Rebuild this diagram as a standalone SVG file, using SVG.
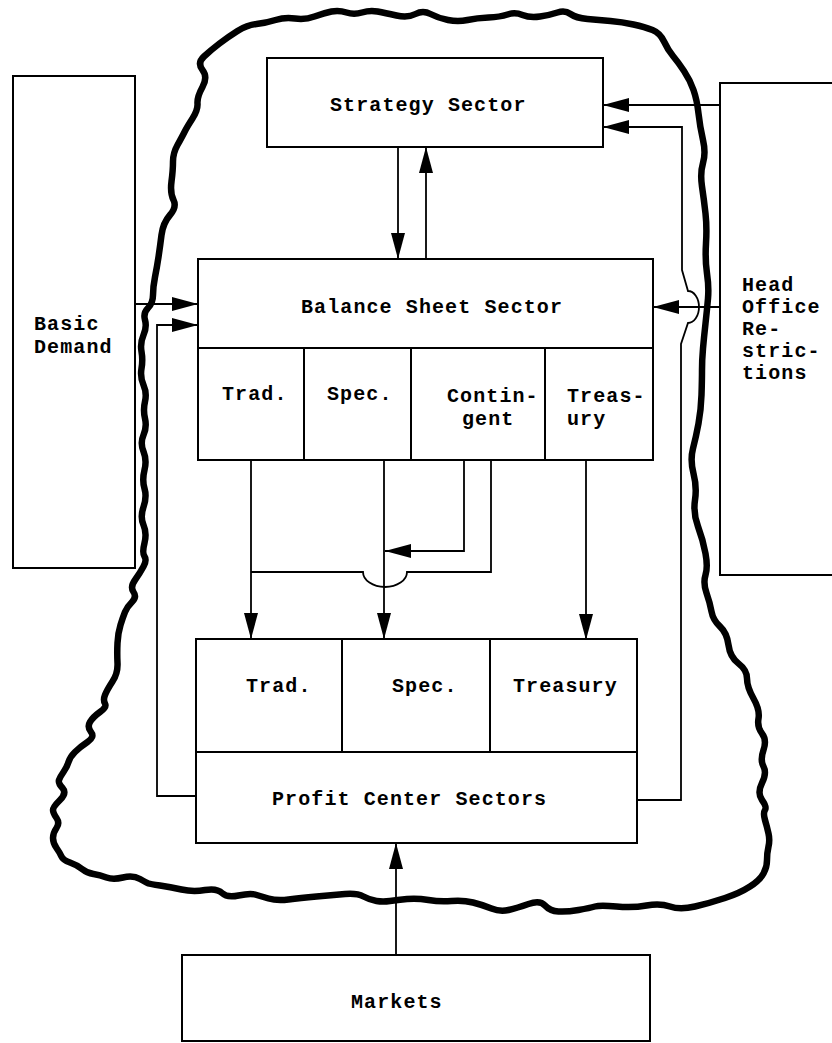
<svg xmlns="http://www.w3.org/2000/svg" width="832" height="1043" viewBox="0 0 832 1043">
<style>
.box{fill:#fff;stroke:#000;stroke-width:2}
.div{fill:none;stroke:#000;stroke-width:2}
.con{fill:none;stroke:#000;stroke-width:1.8}
.lbl{font-family:"Liberation Mono","DejaVu Sans Mono",monospace;font-weight:bold;font-size:20px;letter-spacing:1.1px;fill:#000}
.blob{fill:none;stroke:#000;stroke-width:6.5;stroke-linejoin:round;stroke-linecap:round}
</style>
<defs>
<marker id="ah" markerUnits="userSpaceOnUse" markerWidth="26" markerHeight="14" refX="26" refY="7" orient="auto">
<path d="M0,0 L26,7 L0,14 Z" fill="#000"/>
</marker>
</defs>
<rect width="832" height="1043" fill="#fff"/>

<g id="boundary">
<path class="blob" d="M202.5,70 Q197,63 204,56.5 Q211,50 219.5,43.5 Q228,37 237.5,31 Q247,25 256.5,24 Q266,23 275.5,20 Q285,17 295,18.5 Q305,20 314.5,16.5 Q324,13 331.5,11.5 Q339,10 346.5,12.5 Q354,15 362,12.5 Q370,10 377.5,11.5 Q385,13 396.5,15.5 Q408,18 415.5,14 Q423,10 430.5,14 Q438,18 448,20 Q458,22 467.5,20 Q477,18 488.5,17.5 Q500,17 507.5,14.5 Q515,12 522.5,15 Q530,18 540,16.5 Q550,15 557.5,12.5 Q565,10 570.5,14 Q576,18 587.5,19 Q599,20 610.5,21 Q622,22 633.5,24.5 Q645,27 652.5,30 Q660,33 664,41.5 Q668,50 673,56 Q678,62 684,71 Q690,80 693.5,90 Q697,100 698.5,113.5 Q700,127 703,140 Q706,153 703,163 Q700,173 702,186.5 Q704,200 705.5,213.5 Q707,227 706,243.5 Q705,260 707,273.5 Q709,287 708,298.5 Q707,310 705.5,323.5 Q704,337 703,348.5 Q702,360 702,370 Q702,380 701.5,395 Q701,410 698.5,423.5 Q696,437 693,448.5 Q690,460 693.5,473.5 Q697,487 695,500 Q693,513 698,526.5 Q703,540 705.5,553.5 Q708,567 705.5,575 Q703,583 706.5,593 Q710,603 711.5,611.5 Q713,620 720,626.5 Q727,633 728.5,645 Q730,657 738.5,663.5 Q747,670 747,678.5 Q747,687 753.5,698.5 Q760,710 758.5,718.5 Q757,727 762,733.5 Q767,740 763.5,750 Q760,760 763.5,766.5 Q767,773 762,783 Q757,793 762,800 Q767,807 765,810 Q763,813 765,820 Q767,827 768.5,833.5 Q770,840 768.5,846.5 Q767,853 767,860 Q767,867 763.5,873.5 Q760,880 750,886.5 Q740,893 725,898 Q710,903 695,906.5 Q680,910 670,906.5 Q660,903 646.5,905.5 Q633,908 616.5,906.5 Q600,905 595,906.5 Q590,908 578.5,910 Q567,912 558.5,911.5 Q550,911 545,905.5 Q540,900 528.5,904 Q517,908 508.5,910 Q500,912 491.5,908.5 Q483,905 473,902.5 Q463,900 451.5,901 Q440,902 428.5,900 Q417,898 407,899 Q397,900 390,901 Q383,902 376.5,901 Q370,900 363.5,896.5 Q357,893 345,894 Q333,895 316.5,896.5 Q300,898 288.5,899.5 Q277,901 268.5,898.5 Q260,896 255,894.5 Q250,893 238.5,895.5 Q227,898 222,893 Q217,888 205,890 Q193,892 181.5,889.5 Q170,887 160,885.5 Q150,884 148.5,883.5 Q147,883 140,879 Q133,875 123,877.5 Q113,880 106.5,877.5 Q100,875 93.5,874 Q87,873 82,869 Q77,865 70,862.5 Q63,860 61.5,856.5 Q60,853 56.5,848 Q53,843 53,838 Q53,833 56.5,828 Q60,823 56.5,818 Q53,813 53,810 Q53,807 60,800 Q67,793 62.5,788 Q58,783 59,780 Q60,777 63.5,772 Q67,767 68.5,762 Q70,757 75,752 Q80,747 87.5,742 Q95,737 91,732 Q87,727 90,722 Q93,717 100,712 Q107,707 105,703.5 Q103,700 105,695 Q107,690 112.5,681.5 Q118,673 117.5,663 Q117,653 117.5,643 Q118,633 120.5,625 Q123,617 125,612 Q127,607 132,602 Q137,597 133.5,592 Q130,587 135,580 Q140,573 143.5,566.5 Q147,560 144.5,556.5 Q142,553 144.5,543 Q147,533 143.5,525 Q140,517 143.5,507 Q147,497 144.5,488.5 Q142,480 144.5,470 Q147,460 143.5,451.5 Q140,443 143.5,435 Q147,427 145,418.5 Q143,410 145,401.5 Q147,393 143.5,385 Q140,377 141.5,368.5 Q143,360 141.5,351.5 Q140,343 143.5,335 Q147,327 145,320 Q143,313 148,308 Q153,303 153,295 Q153,287 155,277 Q157,267 158.5,257 Q160,247 161.5,235 Q163,223 170,215 Q177,207 173.5,200 Q170,193 171.5,181.5 Q173,170 173,161.5 Q173,153 177.5,145 Q182,137 184.5,132 Q187,127 192.5,118.5 Q198,110 197.5,103.5 Q197,97 202.5,87 Q208,77 202.5,70 Z"/>
</g>

<g id="connectors">
<line class="con" x1="398" y1="147" x2="398" y2="259" marker-end="url(#ah)"/>
<line class="con" x1="426" y1="259" x2="426" y2="147" marker-end="url(#ah)"/>
<line class="con" x1="720" y1="105" x2="603" y2="105" marker-end="url(#ah)"/>
<path class="con" d="M637,800 H681 V344 L688,323 A11,16 0 0 0 688,291 L682,270 V127 H603" marker-end="url(#ah)"/>
<line class="con" x1="720" y1="307" x2="653" y2="307" marker-end="url(#ah)"/>
<line class="con" x1="135" y1="304" x2="198" y2="304" marker-end="url(#ah)"/>
<path class="con" d="M196,796 H157 V325 H198" marker-end="url(#ah)"/>
<line class="con" x1="251" y1="460" x2="251" y2="639" marker-end="url(#ah)"/>
<line class="con" x1="384" y1="460" x2="384" y2="639" marker-end="url(#ah)"/>
<path class="con" d="M464,460 V551 H385" marker-end="url(#ah)"/>
<path class="con" d="M491,460 V572 H407 A22,15 0 0 1 363,572 H251"/>
<line class="con" x1="586" y1="460" x2="586" y2="640" marker-end="url(#ah)"/>
<line class="con" x1="286" y1="371" x2="336" y2="371" marker-end="url(#ah)"/>
<line class="con" x1="433" y1="372" x2="382" y2="372" marker-end="url(#ah)"/>
<line class="con" x1="396" y1="955" x2="396" y2="843" marker-end="url(#ah)"/>
</g>

<g id="strategy">
<rect class="box" x="267" y="58" width="336" height="89"/>
<text class="lbl" x="330" y="111">Strategy Sector</text>
</g>

<g id="basic-demand">
<rect class="box" x="13" y="76" width="122" height="492"/>
<text class="lbl" x="34" y="330">Basic</text>
<text class="lbl" x="34" y="353">Demand</text>
</g>

<g id="head-office">
<rect class="box" x="720" y="83" width="130" height="492"/>
<text class="lbl" x="742" y="291">Head</text>
<text class="lbl" x="742" y="313">Office</text>
<text class="lbl" x="742" y="335">Re-</text>
<text class="lbl" x="742" y="357">stric-</text>
<text class="lbl" x="742" y="379">tions</text>
</g>

<g id="balance-sheet">
<rect class="box" x="198" y="259" width="455" height="201"/>
<line class="div" x1="198" y1="348" x2="653" y2="348"/>
<line class="div" x1="304" y1="348" x2="304" y2="460"/>
<line class="div" x1="411" y1="348" x2="411" y2="460"/>
<line class="div" x1="545" y1="348" x2="545" y2="460"/>
<text class="lbl" x="301" y="313">Balance Sheet Sector</text>
<text class="lbl" x="222" y="400">Trad.</text>
<text class="lbl" x="327" y="400">Spec.</text>
<text class="lbl" x="447" y="402">Contin-</text>
<text class="lbl" x="462" y="425">gent</text>
<text class="lbl" x="567" y="402">Treas-</text>
<text class="lbl" x="567" y="425">ury</text>
</g>

<g id="profit-center">
<rect class="box" x="196" y="639" width="441" height="204"/>
<line class="div" x1="196" y1="752" x2="637" y2="752"/>
<line class="div" x1="342" y1="639" x2="342" y2="752"/>
<line class="div" x1="490" y1="639" x2="490" y2="752"/>
<text class="lbl" x="246" y="692">Trad.</text>
<text class="lbl" x="392" y="692">Spec.</text>
<text class="lbl" x="513" y="692">Treasury</text>
<text class="lbl" x="272" y="805">Profit Center Sectors</text>
</g>

<g id="markets">
<rect class="box" x="182" y="955" width="468" height="86"/>
<text class="lbl" x="351" y="1008">Markets</text>
</g>
</svg>
